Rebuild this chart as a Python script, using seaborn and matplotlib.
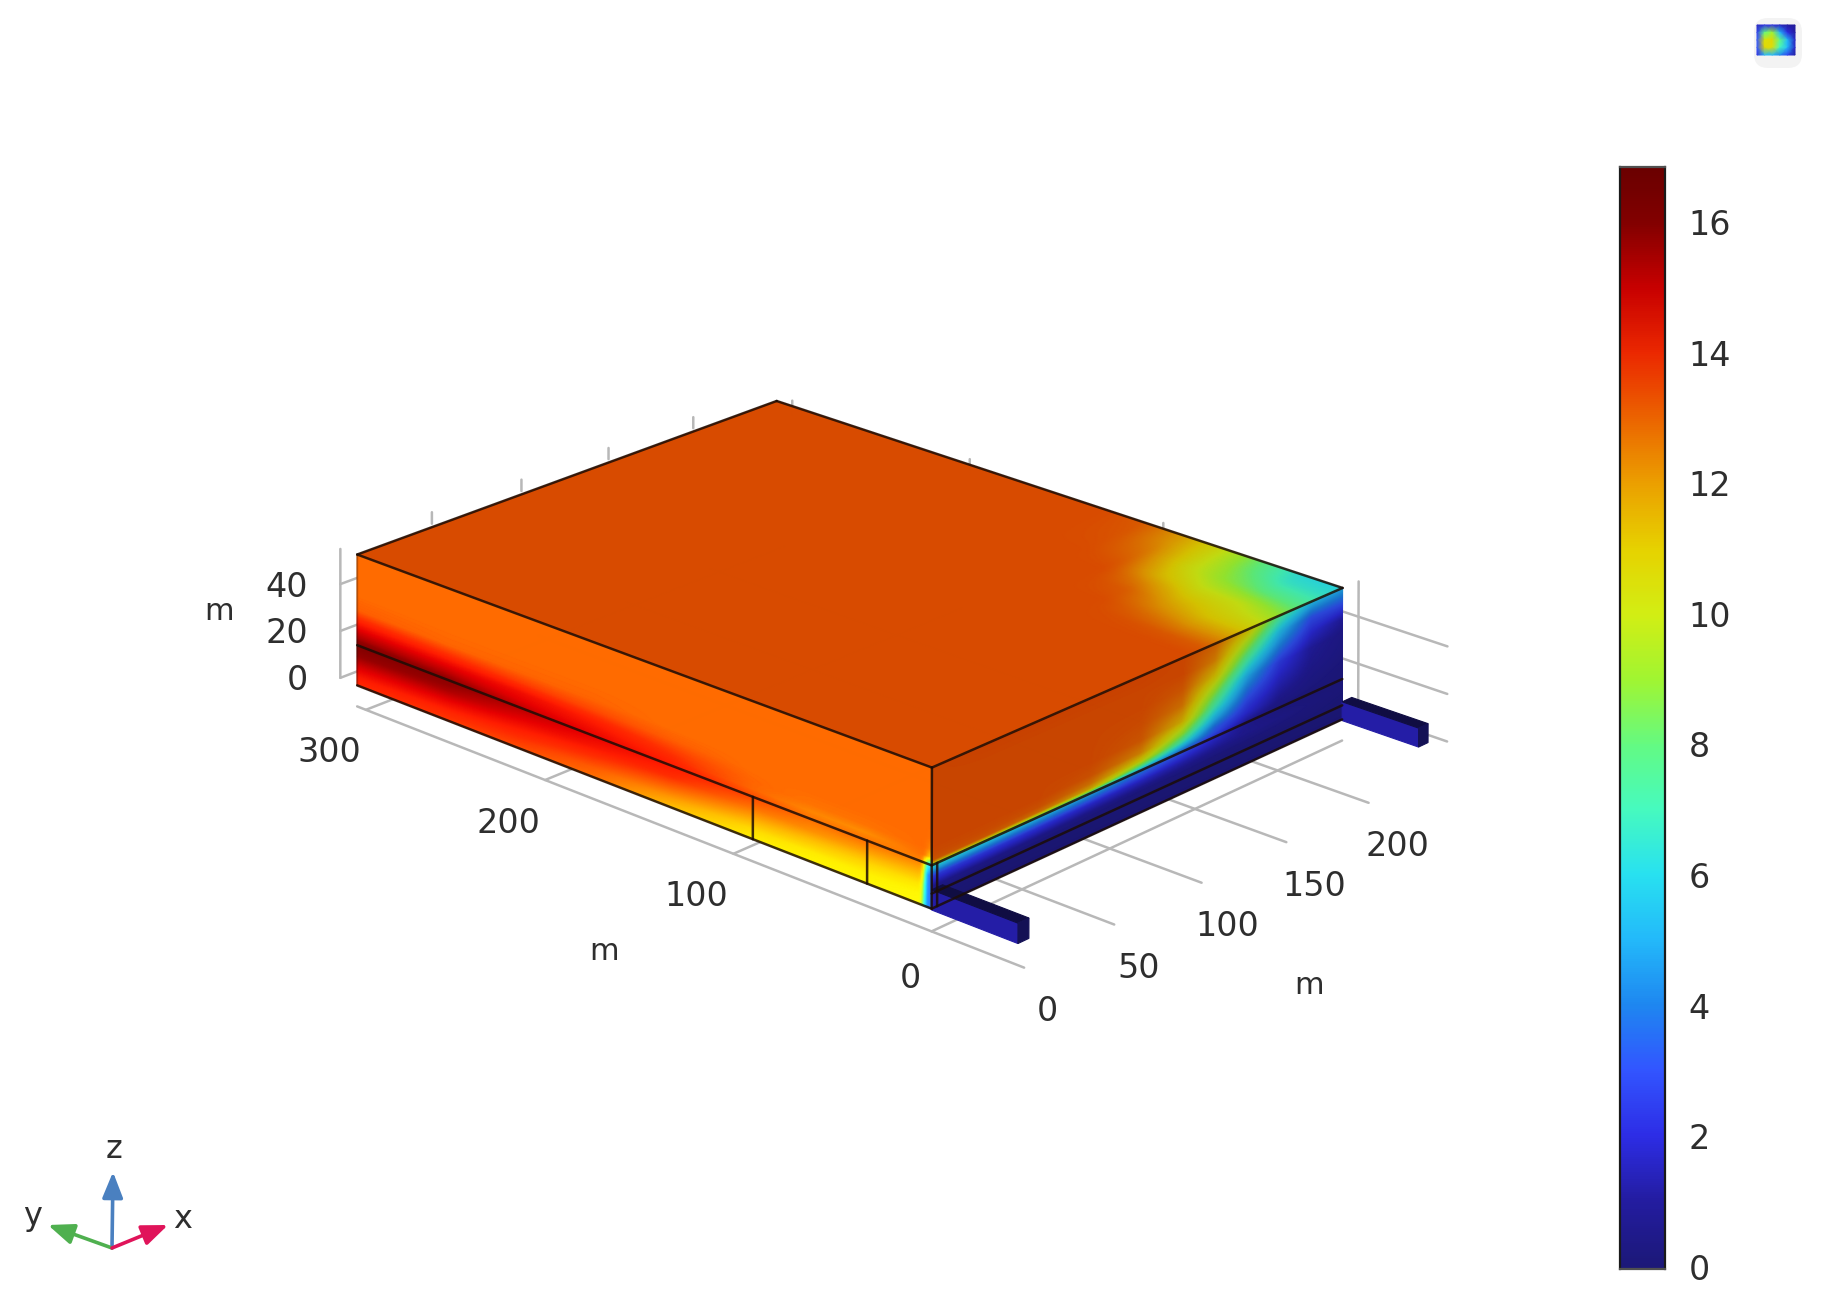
import numpy as np
import matplotlib
matplotlib.use("Agg")
import matplotlib.pyplot as plt
from matplotlib.colors import LinearSegmentedColormap, ListedColormap, Normalize
from matplotlib.patches import FancyBboxPatch
import seaborn as sns

# ---------------- data ----------------
CB_TICKS = [0, 2, 4, 6, 8, 10, 12, 14, 16]
V_MIN, V_MAX = -0.03, 16.84
X_TICKS = [0, 50, 100, 150, 200]
Y_TICKS = [0, 100, 200, 300]
Z_TICKS = [0, 20, 40]

CMAP_VALUES = [0, 1, 2, 3, 4, 5, 6, 7, 8, 9, 10, 11, 12, 13, 14, 15, 16, 16.84]
CMAP_COLORS = ["#1c1878", "#231ca0", "#2d2de6", "#3255ff", "#1e87f0", "#23b9fa", "#28e1f0",
               "#46fabe", "#64fa82", "#a0f532", "#d2ee14", "#e6d200", "#eba000", "#eb6400",
               "#eb2800", "#c80000", "#820000", "#6a0000"]

TOP_X = [0, 150, 160, 170, 185, 195, 205, 220, 235, 245]
TOP_Y = [0, 20, 40, 60, 80, 100, 120, 300]
TOP_V = [[13.3, 13.3, 13.0, 12.2, 10.8, 10.0, 9.0, 7.6, 6.5, 6.0],
         [13.3, 13.3, 13.1, 12.3, 11.0, 10.5, 10.0, 8.0, 6.6, 6.2],
         [13.3, 13.3, 13.2, 12.8, 11.8, 11.0, 10.2, 9.0, 8.3, 8.0],
         [13.3, 13.3, 13.3, 13.3, 13.0, 12.3, 11.3, 10.5, 10.3, 10.2],
         [13.3, 13.3, 13.3, 13.3, 13.3, 13.3, 13.1, 12.6, 12.0, 11.8],
         [13.3, 13.3, 13.3, 13.3, 13.3, 13.3, 13.3, 13.2, 13.1, 13.0],
         [13.3, 13.3, 13.3, 13.3, 13.3, 13.3, 13.3, 13.3, 13.3, 13.3],
         [13.3, 13.3, 13.3, 13.3, 13.3, 13.3, 13.3, 13.3, 13.3, 13.3]]

RIGHT_X = [0, 30, 60, 90, 120, 145, 165, 185, 205, 225, 245]
RIGHT_Z = [-6, 0, 3, 7, 11.2, 12.3, 13.4, 15.5, 18.8, 24, 30.6, 37, 43.5, 50]
RIGHT_V = [[0.3, 0.3, 0.3, 0.3, 0.3, 0.3, 0.3, 0.3, 0.3, 0.3, 0.3],
           [0.5, 0.4, 0.4, 0.4, 0.4, 0.4, 0.4, 0.4, 0.4, 0.4, 0.4],
           [1.0, 0.9, 0.8, 0.7, 0.6, 0.6, 0.5, 0.5, 0.5, 0.5, 0.4],
           [2.6, 2.5, 2.3, 2.0, 1.8, 1.5, 1.2, 1.0, 0.8, 0.6, 0.5],
           [6.5, 6.0, 5.5, 5.0, 4.0, 3.0, 2.0, 1.0, 0.6, 0.5, 0.5],
           [11.5, 11.0, 10.0, 8.5, 6.0, 4.0, 2.5, 1.2, 0.7, 0.5, 0.5],
           [13.0, 13.0, 12.5, 11.5, 8.0, 5.0, 3.0, 1.5, 0.8, 0.6, 0.5],
           [13.2, 13.2, 13.1, 12.5, 10.5, 7.0, 3.5, 2.0, 1.0, 0.7, 0.5],
           [13.3, 13.3, 13.3, 13.1, 12.2, 9.0, 5.0, 2.5, 1.3, 0.8, 0.6],
           [13.3, 13.3, 13.3, 13.3, 13.0, 11.3, 7.0, 3.5, 1.8, 1.0, 0.7],
           [13.3, 13.3, 13.3, 13.3, 13.2, 12.5, 9.0, 5.0, 2.5, 1.2, 0.8],
           [13.3, 13.3, 13.3, 13.3, 13.3, 13.0, 11.0, 7.0, 4.0, 2.0, 1.2],
           [13.3, 13.3, 13.3, 13.3, 13.3, 13.3, 12.3, 9.0, 5.5, 3.0, 3.0],
           [13.3, 13.4, 13.4, 13.4, 13.4, 13.3, 12.8, 11.0, 7.5, 5.5, 5.0]]

LEFT_Y = [0, 2.5, 3.5, 5, 32, 60, 90, 130, 170, 210, 250, 300]
LEFT_Z = [-6, -1.7, 2.6, 7, 11.2, 14.5, 17.7, 22, 26.3, 32.8, 50]
LEFT_V = [[3.5, 3.5, 6.0, 10.7, 10.8, 10.9, 11.0, 11.8, 13.0, 13.5, 13.8, 14.1],
          [3.5, 3.5, 7.0, 10.8, 11.0, 11.1, 11.4, 12.4, 13.3, 13.9, 14.2, 14.5],
          [3.5, 3.5, 8.0, 11.2, 11.5, 11.8, 12.2, 13.2, 13.9, 14.4, 14.9, 15.2],
          [3.5, 3.5, 10.0, 12.0, 12.3, 12.6, 13.0, 14.0, 14.5, 15.0, 15.7, 16.0],
          [5.0, 6.0, 12.0, 12.7, 13.0, 13.0, 13.6, 14.4, 14.9, 15.5, 16.2, 16.6],
          [11.0, 12.5, 13.0, 13.0, 12.6, 12.7, 13.2, 14.1, 14.6, 15.0, 15.5, 15.7],
          [12.5, 13.0, 13.1, 13.1, 13.0, 13.0, 13.2, 13.8, 14.3, 14.7, 14.9, 15.1],
          [13.0, 13.1, 13.1, 13.1, 13.1, 13.1, 13.1, 13.3, 13.6, 13.8, 14.0, 14.2],
          [13.1, 13.1, 13.1, 13.1, 13.1, 13.1, 13.1, 13.1, 13.2, 13.2, 13.2, 13.3],
          [13.1, 13.1, 13.1, 13.1, 13.1, 13.1, 13.1, 13.1, 13.1, 13.1, 13.1, 13.1],
          [13.1, 13.1, 13.1, 13.1, 13.1, 13.1, 13.1, 13.1, 13.1, 13.1, 13.1, 13.1]]

ICON_V = [[1.5, 2.0, 2.0, 1.5, 1.0, 0.8],
          [2.5, 8.0, 9.0, 5.0, 2.0, 1.0],
          [3.0, 10.5, 10.8, 8.0, 5.0, 1.5],
          [3.0, 10.8, 10.5, 7.0, 5.0, 1.5],
          [2.0, 5.0, 5.0, 4.0, 2.5, 1.0]]

# Model geometry (metres)
BOX_X = (0, 240)
BOX_Y = (0, 305)
BOX_Z = (-6, 50)
JOINT_Z = 11.2
CHANNEL_Z = 0
FLOOR_Z = -15
CUT_Y = [32, 90]

# Camera calibration: model point (m) -> picture pixel (box corners first, weighted)
CAL_WORLD = [(0, 0, 50), (0, 0, -6), (240, 0, 50), (240, 0, -6), (0, 305, 50), (0, 305, -6),
             (240, 305, 50), (0, 0, -15), (240, 0, -15), (0, 100, -15), (0, 200, -15),
             (0, -45, -15), (50, -45, -15), (100, -45, -15), (150, -45, -15), (200, -45, -15),
             (-9, 305, 0), (-9, 305, 20), (-9, 305, 40),
             (240, -45, 0), (240, -45, 20), (240, -45, 40)]
CAL_PIXEL = [(932, 768), (932, 908), (1342, 587), (1342, 720), (357, 555), (357, 685),
             (777, 401), (932, 933), (1335, 743), (732, 855), (545, 780),
             (1022, 970), (1110, 930), (1197, 889), (1285, 846), (1366, 802),
             (342, 676), (342, 629), (342, 583),
             (1445, 742), (1446, 693), (1448, 646)]
CAL_WEIGHT = [8, 8, 8, 8, 8, 8, 8] + [1] * 15

# ---------------- helpers ----------------
def fit_camera(world, pixel, weight):
    rows, rhs = [], []
    for (X, Y, Z), (u, v), w in zip(world, pixel, weight):
        rows.append([w * c for c in [X, Y, Z, 1, 0, 0, 0, 0, -u * X, -u * Y, -u * Z]]); rhs.append(w * u)
        rows.append([w * c for c in [0, 0, 0, 0, X, Y, Z, 1, -v * X, -v * Y, -v * Z]]); rhs.append(w * v)
    p = np.linalg.lstsq(np.array(rows, float), np.array(rhs, float), rcond=None)[0]
    return np.append(p, 1.0).reshape(3, 4)

CAM = fit_camera(CAL_WORLD, CAL_PIXEL, CAL_WEIGHT)

def project(x, y, z):
    x, y, z = np.broadcast_arrays(np.asarray(x, float), np.asarray(y, float), np.asarray(z, float))
    w = CAM[2, 0] * x + CAM[2, 1] * y + CAM[2, 2] * z + CAM[2, 3]
    return ((CAM[0, 0] * x + CAM[0, 1] * y + CAM[0, 2] * z + CAM[0, 3]) / w,
            (CAM[1, 0] * x + CAM[1, 1] * y + CAM[1, 2] * z + CAM[1, 3]) / w)

def refine(a, b, V, n=400, passes=2):
    """Resample a table for drawing, so the shading is smooth."""
    a, b, V = np.asarray(a, float), np.asarray(b, float), np.asarray(V, float)
    fa, fb = np.linspace(a[0], a[-1], n), np.linspace(b[0], b[-1], n)
    tmp = np.array([np.interp(fa, a, row) for row in V])
    out = np.array([np.interp(fb, b, col) for col in tmp.T]).T
    k = np.ones(3) / 3
    for _ in range(passes):
        p = np.pad(out, ((0, 0), (1, 1)), mode="edge")
        out = np.array([np.convolve(r, k, mode="valid") for r in p])
        p = np.pad(out, ((1, 1), (0, 0)), mode="edge")
        out = np.array([np.convolve(r, k, mode="valid") for r in p.T]).T
    return fa, fb, out

pos = [(v - CMAP_VALUES[0]) / (CMAP_VALUES[-1] - CMAP_VALUES[0]) for v in CMAP_VALUES]
base = LinearSegmentedColormap.from_list("comsol", list(zip(pos, CMAP_COLORS)), N=512)
norm = Normalize(0, 16.84)

def shaded(f):
    return ListedColormap(np.clip(base(np.linspace(0, 1, 512))[:, :3] * f, 0, 1))

def shade_colour(v, f):
    return tuple(np.clip(np.array(base(norm(v))[:3]) * f, 0, 1))

# ---------------- figure ----------------
sns.set_theme(style="white")
plt.rcParams["font.family"] = ["DejaVu Sans"]
TXT = "#2e2e2e"
FS = 24
W, H = 1823, 1312
fig = plt.figure(figsize=(W / 100, H / 100), dpi=100, facecolor="white")
ax = fig.add_axes([0, 0, 1, 1])
ax.set_xlim(0, W)
ax.set_ylim(H, 0)
ax.axis("off")

GRID = dict(color="#b8b8b8", lw=1.8, zorder=1, solid_capstyle="round")
EDGE = dict(color="#1c0d06", lw=1.8, alpha=0.85, zorder=6)

def line3(p, q, **kw):
    u, v = project([p[0], q[0]], [p[1], q[1]], [p[2], q[2]])
    ax.plot(u, v, **kw)

x0, x1 = BOX_X; y0, y1 = BOX_Y; z0, z1 = BOX_Z

# floor grid
for xt in X_TICKS:
    line3((xt, -45, FLOOR_Z), (xt, y1, FLOOR_Z), **GRID)
for yt in Y_TICKS:
    line3((0, yt, FLOOR_Z), (x1, yt, FLOOR_Z), **GRID)
# z axes and wall lines
line3((-9, y1, 0), (-9, y1, 55), **GRID)
line3((x1, -8, 0), (x1, -8, 55), **GRID)
for zt in Z_TICKS:
    line3((-9, y1, zt), (0, y1, zt), **GRID)
    line3((x1, -52, zt), (x1, 0, zt), **GRID)
# stubs that peek out behind the top edges
for xt in [50, 100, 150, 200]:
    line3((xt, 315, 46), (xt, 315, 51), **GRID)
for yt in [92, 196, 296]:
    line3((x1, yt, 46), (x1, yt, 52.5), **GRID)

# faces
def face(fa, fb, vals, mapper, f):
    A, B = np.meshgrid(fa, fb)
    u, v = mapper(A, B)
    ax.pcolormesh(u, v, vals, shading="gouraud", cmap=shaded(f), norm=norm, zorder=3, rasterized=True)

fa, fb, v = refine(LEFT_Y, LEFT_Z, LEFT_V)
face(fa, fb, v, lambda Y, Z: project(0, Y * y1 / LEFT_Y[-1], Z), 1.15)
fa, fb, v = refine(RIGHT_X, RIGHT_Z, RIGHT_V)
face(fa, fb, v, lambda X, Z: project(X * x1 / RIGHT_X[-1], 0, Z), 0.85)
fa, fb, v = refine(TOP_X, TOP_Y, TOP_V, passes=12)
face(fa, fb, v, lambda X, Y: project(X * x1 / TOP_X[-1], Y * y1 / TOP_Y[-1], z1), 0.92)

# edges
for p, q in [((x0, y0, z1), (x1, y0, z1)), ((x0, y0, z1), (x0, y1, z1)),
             ((x1, y0, z1), (x1, y1, z1)), ((x0, y1, z1), (x1, y1, z1)),
             ((x0, y0, z0), (x0, y0, z1)),
             ((x0, y0, z0), (x0, y1, z0)), ((x0, y0, z0), (x1, y0, z0)),
             ((x0, y0, JOINT_Z), (x0, y1, JOINT_Z)), ((x0, y0, JOINT_Z), (x1, y0, JOINT_Z)),
             ((x0, y0, CHANNEL_Z), (x1, y0, CHANNEL_Z)),
             ((3, 0, z0), (3, 0, JOINT_Z))]:
    line3(p, q, **EDGE)
line3((x0, y1, z0), (x0, y1, z1), color="#1c0d06", lw=1.4, alpha=0.3, zorder=6)
for yc in CUT_Y:
    line3((0, yc, z0), (0, yc, JOINT_Z), **EDGE)

# inlet / outlet channels
def channel(xa, xb, ya, yb=0, za=-6.5, zb=1.5):
    quads = [([xa, xa, xa, xa], [ya, yb, yb, ya], [za, za, zb, zb], shade_colour(1.1, 1.0)),
             ([xa, xb, xb, xa], [ya, ya, yb, yb], [zb, zb, zb, zb], shade_colour(0.05, 0.55)),
             ([xa, xb, xb, xa], [ya, ya, ya, ya], [za, za, zb, zb], shade_colour(0.05, 0.7))]
    for X, Y, Z, c in quads:
        u, v = project(X, Y, Z)
        ax.fill(u, v, color=c, lw=0.8, zorder=5)

channel(0, 6, -42)
channel(x1, x1 + 6, -38)

# tick labels
for t in Y_TICKS:
    u, v = project(0, t, FLOOR_Z)
    ax.text(u - (21 if t == 0 else 37), v + (47 if t == 0 else 43), str(t), ha="center", va="center",
            fontsize=FS, color=TXT, zorder=8)
for t in X_TICKS:
    u, v = project(t, -45, FLOOR_Z)
    ax.text(u + 23 + 0.03 * t, v + 44, str(t), ha="center", va="center", fontsize=FS, color=TXT, zorder=8)
for t in Z_TICKS:
    u, v = project(-9, y1, t)
    ax.text(u - 32, v + 3, str(t), ha="right", va="center", fontsize=FS, color=TXT, zorder=8)
for u, v in [(219, 612), (604, 952), (1309, 985)]:
    ax.text(u, v, "m", ha="center", va="center", fontsize=FS - 2, color=TXT, zorder=8)

# orientation triad
O = (112, 1248)
for tip, col, lab, lp in [((113, 1172), "#4a80c0", "z", (114, 1150)),
                          ((48, 1225), "#4fb04f", "y", (33, 1216)),
                          ((168, 1225), "#e0145a", "x", (183, 1219))]:
    ax.annotate("", xy=tip, xytext=O, zorder=7,
                arrowprops=dict(arrowstyle="-|>,head_width=0.24,head_length=0.6", color=col, lw=2.6,
                                mutation_scale=26, shrinkA=0, shrinkB=0))
    ax.text(*lp, lab, ha="center", va="center", fontsize=FS - 1, color=TXT, zorder=8)

# icon in the corner
ax.add_patch(FancyBboxPatch((1760, 24), 36, 38, boxstyle="round,pad=6,rounding_size=14",
                            fc="#f3f3f3", ec="none", zorder=2))
iu, iv = np.meshgrid(np.linspace(1757, 1795, 6), np.linspace(25, 55, 5))
ax.pcolormesh(iu, iv, np.array(ICON_V), shading="gouraud", cmap=shaded(1.0), norm=norm, zorder=3)

# colour bar
L, R, T, B = 1620, 1665, 167, 1269
cax = fig.add_axes([L / W, 1 - B / H, (R - L) / W, (B - T) / H])
n_rows = 512
levels = np.linspace(V_MAX, V_MIN, n_rows)[:, None]
sns.heatmap(levels, ax=cax, cmap=base, norm=norm, cbar=False, xticklabels=False, yticklabels=False)
cax.set_xticks([])
cax.set_yticks([(V_MAX - t) / (V_MAX - V_MIN) * n_rows for t in CB_TICKS])
cax.set_yticklabels([str(t) for t in CB_TICKS], rotation=0)
cax.tick_params(axis="y", left=True, right=True, direction="in", length=7.5, width=1.3, color="#111111",
                labelleft=False, labelright=True, labelsize=FS, labelcolor=TXT, pad=17)
for s in cax.spines.values():
    s.set_visible(True)
    s.set_color("#1a1a1a")
    s.set_linewidth(1.6)
cax.spines["top"].set_color("#505050")
cax.spines["bottom"].set_color("#505050")

fig.savefig("out.png", dpi=100, facecolor="white")
